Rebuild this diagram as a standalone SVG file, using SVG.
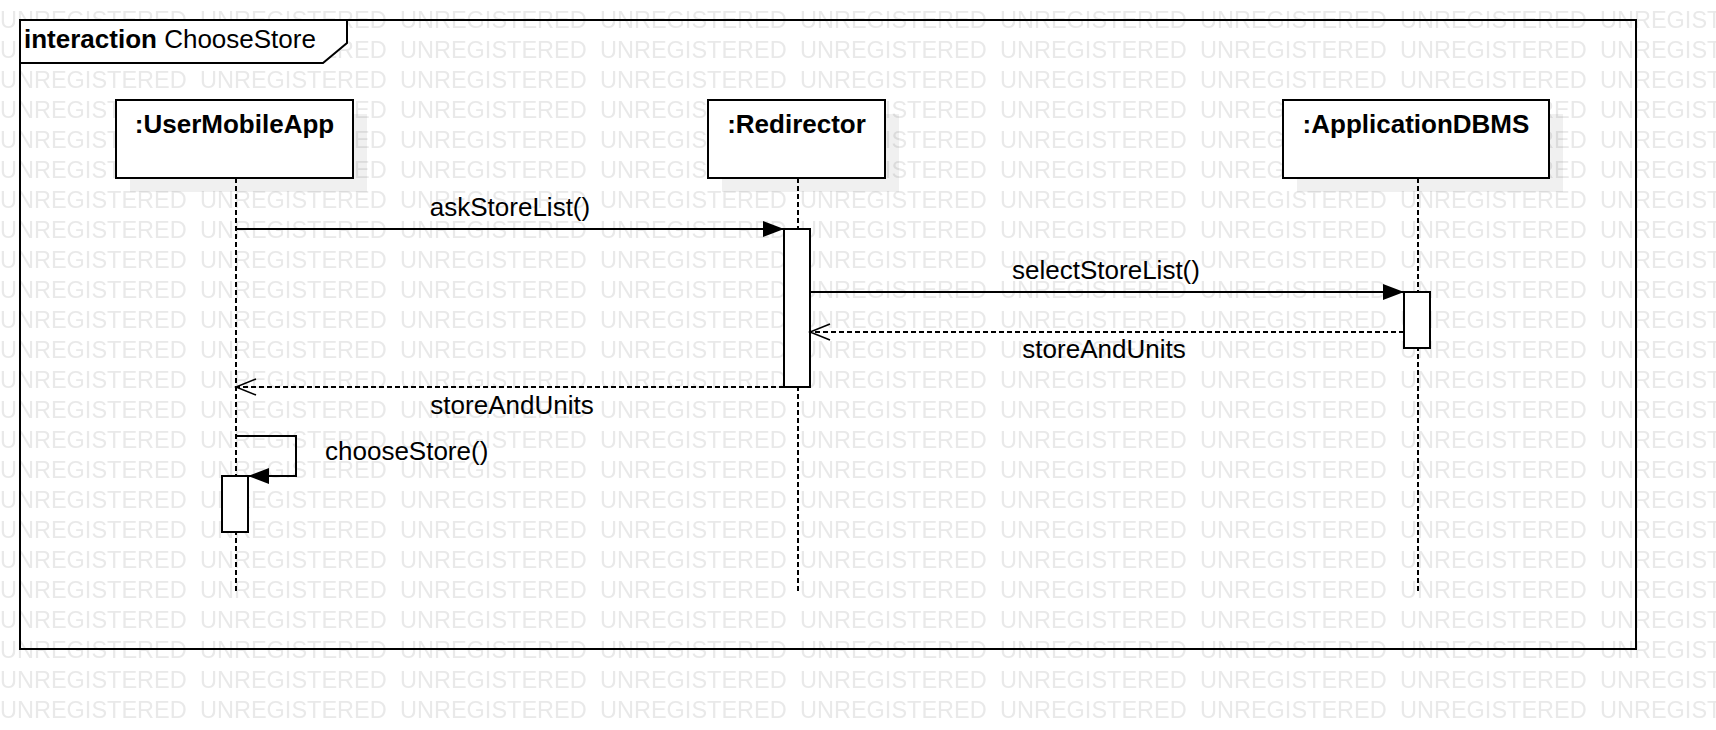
<svg xmlns="http://www.w3.org/2000/svg" width="1716" height="730" viewBox="0 0 1716 730">
<style>
.t{font-family:"Liberation Sans",Arial,sans-serif;font-size:26px;fill:#000}
.b{font-weight:bold}
.wm{font-family:"Liberation Sans",Arial,sans-serif;font-size:23.5px;fill:#e9e9e9}
.box{fill:#fff;stroke:#000;stroke-width:2}
.shadow{fill:#000;fill-opacity:0.06}
.life{stroke:#000;stroke-width:2;stroke-dasharray:5 3;fill:none}
.msg{stroke:#000;stroke-width:2;fill:none}
.ret{stroke-dasharray:5 3}
</style>
<defs>
<pattern id="wmp" patternUnits="userSpaceOnUse" x="0" y="0" width="200" height="30">
<text class="wm" x="0" y="28">UNREGISTERED</text>
</pattern>
<marker id="fa" markerUnits="userSpaceOnUse" viewBox="0 0 21 16" refX="21" refY="8" markerWidth="21" markerHeight="16" orient="auto">
<path d="M0,0 L21,8 L0,16 Z" fill="#000"/>
</marker>
<marker id="oa" markerUnits="userSpaceOnUse" viewBox="-1 -1 23 18" refX="20" refY="8" markerWidth="23" markerHeight="18" orient="auto">
<path d="M0,0 L20,8 L0,16" fill="none" stroke="#000" stroke-width="1.6"/>
</marker>
</defs>
<rect width="1716" height="730" fill="#fff"/>
<rect width="1716" height="730" fill="url(#wmp)"/>

<g id="frame">
<rect x="20" y="20" width="1616" height="629" fill="none" stroke="#000" stroke-width="2"/>
<path d="M20,20 H347 V43 L323,63 H20 Z" fill="#fff" stroke="#000" stroke-width="2"/>
<text class="t" x="24" y="48"><tspan class="b">interaction</tspan> ChooseStore</text>
</g>

<g id="lifelines">
<line class="life" x1="236" y1="178" x2="236" y2="593"/>
<line class="life" x1="798" y1="178" x2="798" y2="593"/>
<line class="life" x1="1418" y1="178" x2="1418" y2="593"/>
</g>

<g id="UserMobileApp">
<rect class="shadow" x="130" y="114" width="237" height="78"/>
<rect class="box" x="116" y="100" width="237" height="78"/>
<text class="t b" x="234.5" y="133" text-anchor="middle">:UserMobileApp</text>
</g>
<g id="Redirector">
<rect class="shadow" x="722" y="114" width="177" height="78"/>
<rect class="box" x="708" y="100" width="177" height="78"/>
<text class="t b" x="796.5" y="133" text-anchor="middle">:Redirector</text>
</g>
<g id="ApplicationDBMS">
<rect class="shadow" x="1297" y="114" width="266" height="78"/>
<rect class="box" x="1283" y="100" width="266" height="78"/>
<text class="t b" x="1416" y="133" text-anchor="middle">:ApplicationDBMS</text>
</g>

<g id="activations">
<rect class="box" x="784" y="229" width="26" height="158"/>
<rect class="box" x="1404" y="292" width="26" height="56"/>
<rect class="box" x="222" y="476" width="26" height="56"/>
</g>

<g id="connectors">
<line class="msg" x1="236" y1="229" x2="784" y2="229" marker-end="url(#fa)"/>
<text class="t" x="510" y="216" text-anchor="middle">askStoreList()</text>
<line class="msg" x1="810" y1="292" x2="1404" y2="292" marker-end="url(#fa)"/>
<text class="t" x="1106" y="279" text-anchor="middle">selectStoreList()</text>
<line class="msg ret" x1="1404" y1="332" x2="810" y2="332" marker-end="url(#oa)"/>
<text class="t" x="1104" y="358" text-anchor="middle">storeAndUnits</text>
<line class="msg ret" x1="784" y1="387" x2="236" y2="387" marker-end="url(#oa)"/>
<text class="t" x="512" y="414" text-anchor="middle">storeAndUnits</text>
<path class="msg" d="M236,436 H296 V476 H248" marker-end="url(#fa)"/>
<text class="t" x="325" y="460">chooseStore()</text>
</g>
</svg>
